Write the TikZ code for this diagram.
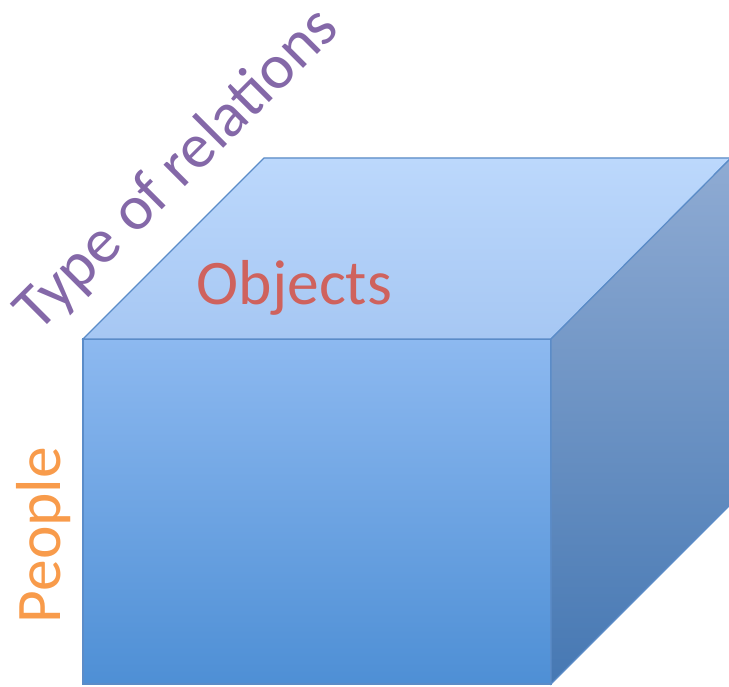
\documentclass[tikz,border=0pt]{standalone}
\usepackage{fontspec}
\setmainfont{Carlito}
\usepackage{tikz}
\definecolor{edgeblue}{HTML}{5B8CC8}
\definecolor{topA}{HTML}{BCD8FC}
\definecolor{topB}{HTML}{A6C7F3}
\definecolor{frontA}{HTML}{8DB9F0}
\definecolor{frontB}{HTML}{4E8FD5}
\definecolor{sideA}{HTML}{8FABD3}
\definecolor{sideB}{HTML}{4678B3}
\definecolor{relpurple}{HTML}{8468A8}
\definecolor{objred}{HTML}{CF625D}
\definecolor{pplorange}{HTML}{F89B4B}
\tikzset{label text/.style={font=\fontsize{63.5}{63.5}\selectfont,inner sep=0pt}}

\begin{document}
\begin{tikzpicture}[x=1pt,y=-1pt]
\clip (0,0) rectangle (729,687);
% corners of the cube
\coordinate (fl) at (83,339);
\coordinate (fr) at (551,339);
\coordinate (bl) at (83,684);
\coordinate (br) at (551,684);
\coordinate (tl) at (264,158);
\coordinate (tr) at (731,158);
\coordinate (rb) at (731,504);
% shadow
\fill[black!30,shift={(1.5,2.5)}](fl)--(tl)--(tr)--(rb)--(br)--(bl)--cycle;
% faces
\shade[top color=frontA,bottom color=frontB,draw=edgeblue,line width=1.2pt](fl)--(fr)--(br)--(bl)--cycle;
\shade[top color=topA,bottom color=topB,draw=edgeblue,line width=1.2pt](fl)--(tl)--(tr)--(fr)--cycle;
\shade[top color=sideA,bottom color=sideB,draw=edgeblue,line width=1.2pt](fr)--(tr)--(rb)--(br)--cycle;
% labels
\node[label text,text=objred,anchor=base](objects) at (294.5,305){Objects};
\node[label text,text=pplorange,anchor=base,rotate=90](people) at (60,535){People};
\node[label text,text=relpurple,anchor=base,rotate=45](relations) at (190,182){Type of relations};
\end{tikzpicture}
\end{document}
